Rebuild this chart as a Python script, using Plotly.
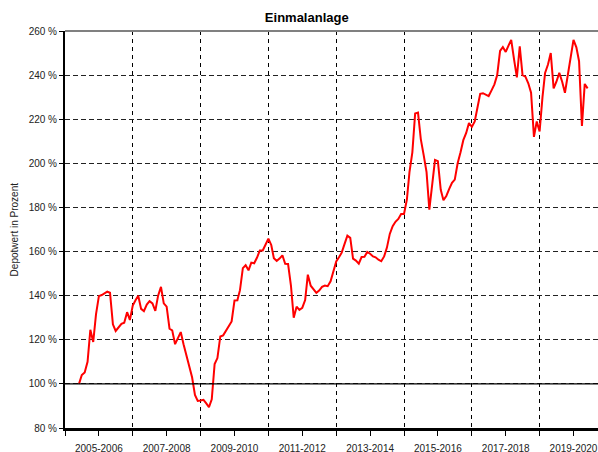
import pandas as pd
import plotly.graph_objects as go

# Depot value in percent, monthly, starting June 2005
start_month = "2005-06-01"
depot_values = [
    100, 104, 105.2, 110, 124.5, 119, 131.5, 139.8, 140.3, 141, 141.8, 141.3,
    127, 124, 125.5, 127.2, 127.7, 132.5, 129, 135.5, 138, 140, 134, 133,
    136, 137.5, 136.5, 133.1, 140, 144, 136.5, 135, 125, 124.3, 118, 120.5,
    123.5, 118, 113, 109, 103, 95, 92.3, 92.5, 92.8, 91.3, 89.5, 93,
    109, 111.7, 121.5, 122, 124.3, 126.3, 128.3, 137.8, 137.9, 142.5, 152.5, 153.8,
    151.5, 155, 154.7, 157.3, 160.5, 160.5, 163.5, 165.8, 163, 157, 155.8, 156.8,
    158.3, 154.5, 154.4, 144.6, 130, 135, 133.5, 134.5, 138, 149.5, 144.5, 142.8,
    141.3, 142.3, 144, 144.6, 144.3, 146.5, 151.5, 155.5, 157.5, 159.5, 163.5, 167.2,
    166.2, 156.8, 155.9, 154.5, 157.5, 157.6, 159.8, 159, 157.8, 157.4, 156.3, 155.6,
    157.8, 161.8, 168, 171.5, 173.5, 174.8, 177, 177, 183.5, 196, 205, 222.6,
    223, 211, 203.7, 196, 179, 192, 201.5, 201, 188, 183.3, 185.2, 188.3,
    191.2, 192.6, 200, 205, 210.5, 213.8, 218.3, 216.5, 219, 225, 231.5, 231.8,
    231, 230.5, 233.1, 235.8, 240, 251, 252.7, 250.5, 253.5, 256, 247, 239,
    253, 240, 239.3, 236.3, 232, 212, 219, 214.5, 230, 241, 244.8, 250,
    234, 237, 241, 237, 232, 240, 247.6, 256, 252.6, 246.3, 217, 236,
    234,
]
months = pd.date_range(start_month, periods=len(depot_values), freq="MS")

label_positions = ["2006-01-01", "2008-01-01", "2010-01-01", "2012-01-01",
                   "2014-01-01", "2016-01-01", "2018-01-01", "2020-01-01"]
period_labels = ["2005-2006", "2007-2008", "2009-2010", "2011-2012",
                 "2013-2014", "2015-2016", "2017-2018", "2019-2020"]
grid_positions = ["2005-01-01", "2007-01-01", "2009-01-01", "2011-01-01",
                  "2013-01-01", "2015-01-01", "2017-01-01", "2019-01-01"]
y_ticks = [80, 100, 120, 140, 160, 180, 200, 220, 240, 260]
y_tick_labels = [f"{v} %" for v in y_ticks]

FONT = "Liberation Sans, Arial, sans-serif"

fig = go.Figure()
fig.add_trace(go.Scatter(
    x=months, y=depot_values, mode="lines",
    line=dict(color="#ff0000", width=2),
    showlegend=False, hoverinfo="skip",
))

fig.update_layout(
    template="none",
    width=598, height=452,
    margin=dict(l=65, r=0, t=31, b=24, autoexpand=False),
    paper_bgcolor="white", plot_bgcolor="white",
    font=dict(family=FONT, size=10, color="#222"),
    title=dict(text="<b>Einmalanlage</b>", x=0.513, xref="container", xanchor="center",
               y=0.962, yref="container", yanchor="middle",
               font=dict(family=FONT, size=13, color="#000")),
    xaxis=dict(
        type="date", automargin=False,
        range=["2005-01-01", "2020-09-21"],
        tickmode="array", tickvals=label_positions, ticktext=period_labels,
        ticks="outside", ticklen=5, tickwidth=1, tickcolor="#000",
        ticklabelstandoff=4,
        showgrid=False, zeroline=False,
        showline=True, linecolor="#000", linewidth=2.5,
        minor=dict(tickmode="array", tickvals=grid_positions,
                   ticks="outside", ticklen=5, tickwidth=1, tickcolor="#000",
                   showgrid=True, gridcolor="#000", gridwidth=1, griddash="4px,4px"),
        tickfont=dict(family=FONT, size=10, color="#222"),
    ),
    yaxis=dict(
        automargin=False,
        range=[80, 260], tickmode="array", tickvals=y_ticks, ticktext=y_tick_labels,
        ticks="outside", ticklen=4, tickwidth=1, tickcolor="#000",
        showgrid=True, gridcolor="#222", gridwidth=1, griddash="5px,3px",
        zeroline=False,
        showline=True, linecolor="#000", linewidth=2,
        tickfont=dict(family=FONT, size=10, color="#222"),
    ),
    shapes=[
        dict(type="line", xref="paper", yref="y", x0=0, x1=1, y0=100, y1=100,
             line=dict(color="#000", width=1.3), layer="above"),
        dict(type="line", xref="paper", yref="paper", x0=0, x1=1, y0=1, y1=1,
             line=dict(color="#808080", width=2), layer="above"),
    ],
    annotations=[
        dict(text="Depotwert in Prozent", xref="paper", yref="paper",
             x=-0.094, y=0.5, xanchor="center", yanchor="middle",
             textangle=-90, showarrow=False,
             font=dict(family=FONT, size=10, color="#222")),
    ],
)

fig.write_html("out.html",
               config={"displayModeBar": False},
               post_script="document.body.style.margin='0';document.body.style.padding='0';")
